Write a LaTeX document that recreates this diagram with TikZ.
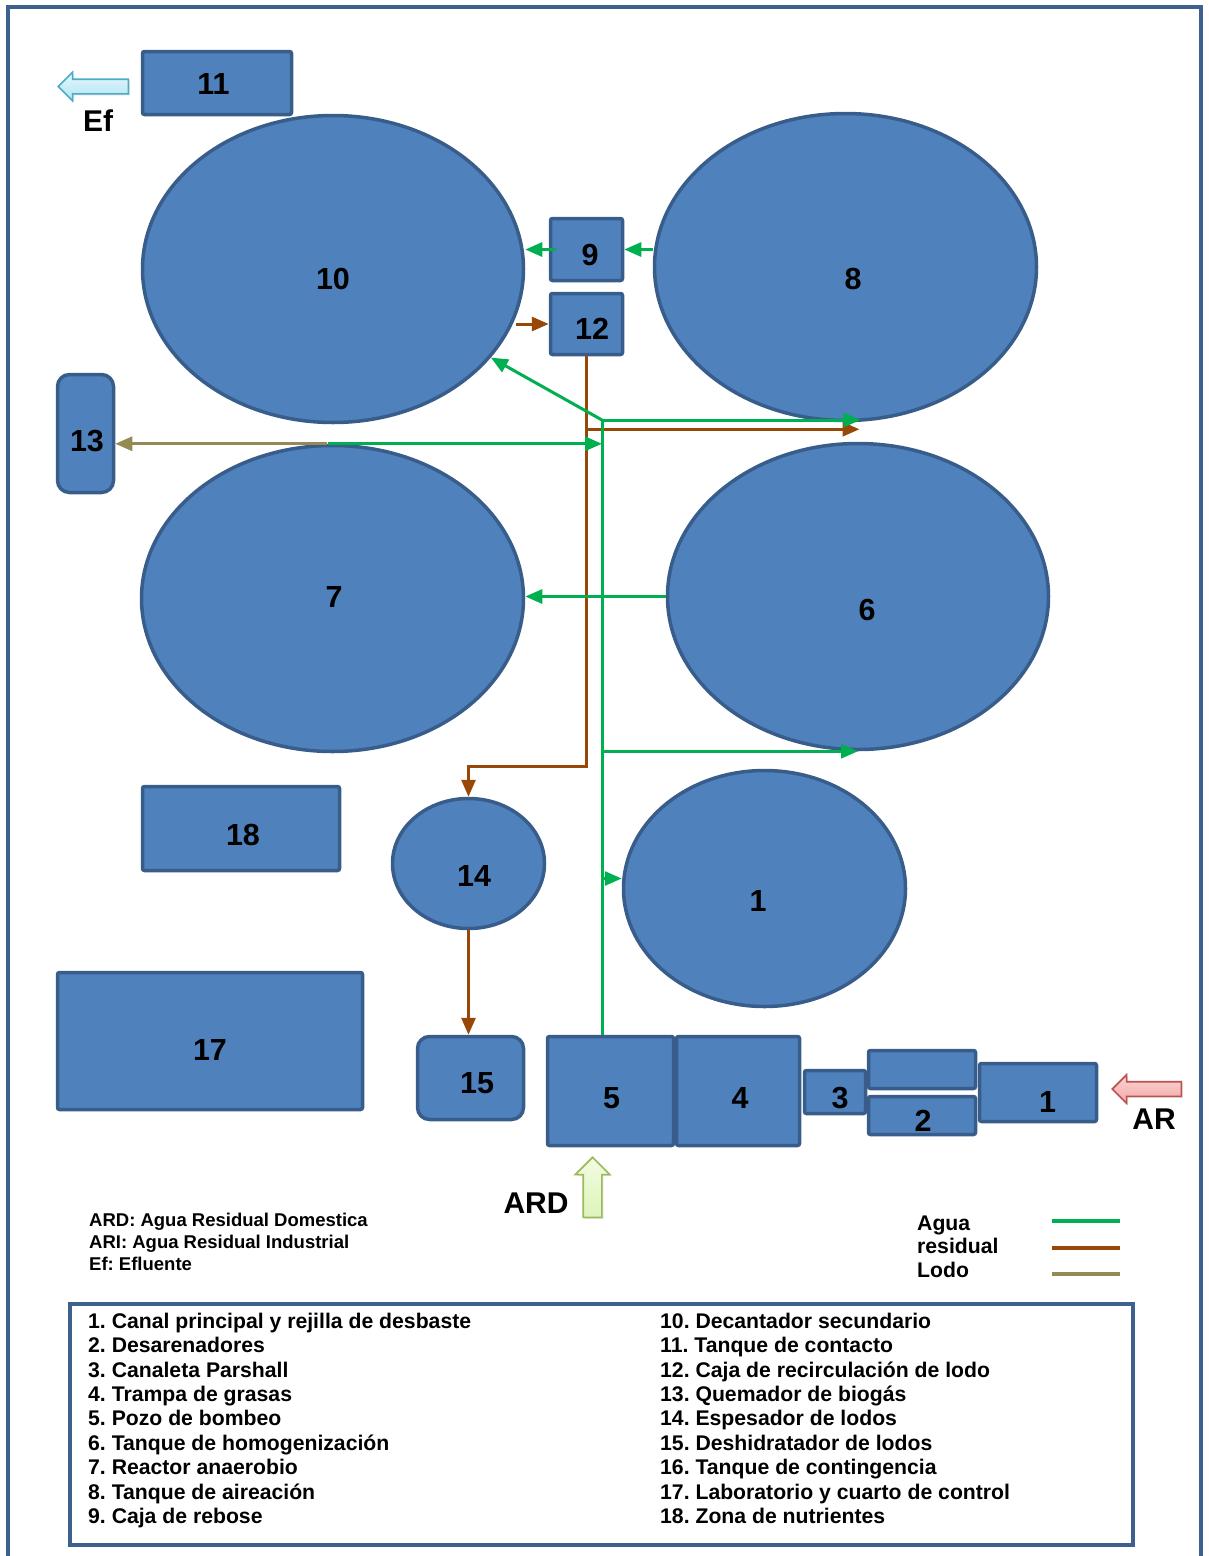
\documentclass[tikz,border=0pt]{standalone}
\usepackage{fontspec}
\setmainfont{Liberation Sans}
\usetikzlibrary{arrows.meta, shapes.geometric, shapes.arrows, shadows, calc}
\frenchspacing
\definecolor{tankFill}{RGB}{79,129,189}
\definecolor{tankLine}{RGB}{56,93,138}
\definecolor{frameLine}{RGB}{62,96,142}
\definecolor{waterLine}{RGB}{0,176,80}
\definecolor{sludgeLine}{RGB}{152,72,6}
\definecolor{gasLine}{RGB}{148,138,84}
\definecolor{efTop}{RGB}{228,248,253}
\definecolor{efFill}{RGB}{178,228,244}
\definecolor{efLine}{RGB}{75,172,198}
\definecolor{arTop}{RGB}{252,214,214}
\definecolor{arFill}{RGB}{242,166,166}
\definecolor{arLine}{RGB}{192,80,77}
\definecolor{ardTop}{RGB}{242,252,226}
\definecolor{ardFill}{RGB}{222,244,186}
\definecolor{ardLine}{RGB}{155,187,89}
\tikzset{
  num/.style={font=\bfseries\fontsize{30.5}{34}\selectfont, inner sep=0pt},
  unit/.style={draw=tankLine, fill=tankFill, line width=3.5pt, inner sep=0pt},
  tankbox/.style={unit, rectangle, rounded corners=2pt},
  softbox/.style={unit, rectangle, rounded corners=12pt},
  tank/.style={unit, ellipse},
  water/.style={-{Triangle[length=17pt,width=14pt]}, line width=3pt, draw=waterLine},
  sludge/.style={-{Triangle[length=17pt,width=14pt]}, line width=3pt, draw=sludgeLine},
  biogas/.style={-{Triangle[length=17pt,width=14pt]}, line width=3pt, draw=gasLine},
  flowin/.style={
    single arrow,
    single arrow head extend=7pt,
    inner sep=6.5pt,
    line width=1.6pt,
    drop shadow={shadow xshift=1.5pt, shadow yshift=-1.5pt, opacity=.25}
  },
  flowlabel/.style={font=\bfseries\fontsize{30}{34}\selectfont, inner sep=0pt, anchor=base},
  keyFrame/.style={draw=frameLine, line width=4pt, inner sep=0pt},
  keytext/.style={font=\bfseries\fontsize{21.2}{24}\selectfont, inner sep=0pt, anchor=base west},
  notetext/.style={font=\bfseries\fontsize{18.5}{22}\selectfont, inner sep=0pt, anchor=base west}
}

\begin{document}
\begin{tikzpicture}[x=1pt, y=-1pt]
  \useasboundingbox (0,0) rectangle (1208,1556);
  \draw[frameLine, line width=4pt] (8,7) rectangle (1201,1600);

  \node[tankbox, minimum width=149pt, minimum height=63pt, label={[num, shift={(-3.5,1)}]center:11}] (contact) at (217,83) {};
  \node[tank, minimum width=381pt, minimum height=307pt, label={[num, shift={(0,10)}]center:10}] (settler) at (333,269) {};
  \node[tank, minimum width=382pt, minimum height=307pt, label={[num, shift={(7.5,12)}]center:8}] (aeration) at (845.5,267) {};
  \node[tankbox, minimum width=72pt, minimum height=62pt, label={[num, shift={(3.5,5.5)}]center:9}] (overflow) at (586.5,249.5) {};
  \node[tankbox, minimum width=72pt, minimum height=61pt, label={[num, shift={(5.5,4.5)}]center:12}] (recirc) at (586.5,324) {};
  \node[softbox, minimum width=56pt, minimum height=118pt, label={[num, shift={(1.5,7.5)}]center:13}] (flare) at (85.5,433.5) {};
  \node[tank, minimum width=382pt, minimum height=306pt, label={[num, shift={(1.5,-1.5)}]center:7}] (anaerobic) at (332.5,598.5) {};
  \node[tank, minimum width=381pt, minimum height=306pt, label={[num, shift={(9,13.5)}]center:6}] (homog) at (858,596.5) {};
  \node[tankbox, minimum width=197pt, minimum height=84pt, label={[num, shift={(2,6.5)}]center:18}] (nutrients) at (241,828.5) {};
  \node[tank, minimum width=152pt, minimum height=130pt, label={[num, shift={(5.5,12.5)}]center:14}] (thickener) at (468.5,863.5) {};
  \node[tank, minimum width=282pt, minimum height=236pt, label={[num, shift={(-6.5,12.5)}]center:1}] (canal) at (764.5,888.5) {};
  \node[tankbox, minimum width=305pt, minimum height=137pt, label={[num, shift={(0,9)}]center:17}] (lab) at (210,1041) {};
  \node[softbox, minimum width=106pt, minimum height=83pt, label={[num, shift={(6.5,5.5)}]center:15}] (dewater) at (470.5,1078) {};
  \node[tankbox, minimum width=126pt, minimum height=109pt, label={[num, shift={(1,7.5)}]center:5}] (pumpWell) at (610.5,1091) {};
  \node[tankbox, minimum width=123pt, minimum height=109pt, label={[num, shift={(2,7)}]center:4}] (grease) at (738,1091) {};
  \node[tankbox, minimum width=61pt, minimum height=43pt, label={[num, shift={(5,6)}]center:3}] (parshall) at (835,1092) {};
  \node[tankbox, minimum width=107pt, minimum height=38pt] (sandTop) at (922,1069.5) {};
  \node[tankbox, minimum width=107pt, minimum height=38pt, label={[num, shift={(1,5)}]center:2}] (sandBottom) at (922,1115.5) {};
  \node[tankbox, minimum width=117pt, minimum height=58pt, label={[num, shift={(9.5,9)}]center:1}] (screen) at (1038,1092.5) {};

  \node[flowin, draw=efLine, top color=efTop, bottom color=efFill, shape border rotate=180, minimum height=70pt] (efOut) at (97,86.5) {};
  \node[flowlabel] (efText) at (98,131) {Ef};
  \node[flowin, draw=arLine, top color=arTop, bottom color=arFill, shape border rotate=180, minimum height=69pt] (arIn) at (1150.5,1089) {};
  \node[flowlabel] (arText) at (1154,1129.5) {AR};
  \node[flowin, draw=ardLine, top color=ardTop, bottom color=ardFill, shape border rotate=90, inner sep=8.5pt, single arrow head extend=8pt, minimum height=60pt] (ardIn) at (592.5,1192) {};
  \node[flowlabel] (ardText) at (536,1213) {ARD};

  \coordinate (riser) at (602,420);
  \coordinate (canalIn) at ([yshift=10pt]canal.west);
  \draw[water] (aeration.west |- overflow.east) -- (overflow.east);
  \draw[water] ([xshift=7pt]overflow.west) -- (settler.east |- overflow.west);
  \draw[sludge] ([xshift=-9pt]recirc.west -| settler.east) -- (recirc.west);
  \draw[sludge] (recirc.south) -- ++(0,410) -| (thickener.north);
  \draw[sludge] ($(recirc.south)+(0,73)$) -- ++(273,0);
  \draw[water, -] (riser |- pumpWell.north) -- (riser);
  \draw[water] (riser) -- (settler);
  \draw[water] (riser) -- ([xshift=15pt]aeration.south |- riser);
  \draw[water] ([xshift=-5pt]anaerobic.north) -- (anaerobic.north -| riser);
  \draw[biogas] ([xshift=-6pt]anaerobic.north) -- (anaerobic.north -| flare.east);
  \draw[water] (homog.west) -- (anaerobic.east |- homog.west);
  \draw[water] (riser |- homog.south) -- (homog.south);
  \draw[water] (riser |- canalIn) -- (canalIn);
  \draw[sludge] (thickener.south) -- (thickener.south |- dewater.north);

  \foreach \note [count=\i] in {ARD: Agua Residual Domestica, ARI: Agua Residual Industrial, Ef: Efluente}
    \node[notetext] (note\i) at (89,{1204+22*\i}) {\note};
  \foreach \kind/\shade [count=\i] in {Agua/waterLine, residual/sludgeLine, Lodo/gasLine} {
    \node[keytext] (kind\i) at (917,{1206.5+23.6*\i}) {\kind};
    \coordinate (swatch\i) at (1052,{1194+26.8*\i});
    \draw[draw=\shade, line width=4pt] (swatch\i) -- ++(68,0);
  }

  \node[keyFrame, minimum width=1063pt, minimum height=241pt] (keyBox) at (601.5,1424) {};
  \foreach \entry [count=\i] in {1. Canal principal y rejilla de desbaste, 2. Desarenadores, 3. Canaleta Parshall, 4. Trampa de grasas, 5. Pozo de bombeo, 6. Tanque de homogenización, 7. Reactor anaerobio, 8. Tanque de aireación, 9. Caja de rebose}
    \node[keytext] (keyA\i) at (88,{1304+24.375*\i}) {\entry};
  \foreach \entry [count=\i] in {10. Decantador secundario, 11. Tanque de contacto, 12. Caja de recirculación de lodo, 13. Quemador de biogás, 14. Espesador de lodos, 15. Deshidratador de lodos, 16. Tanque de contingencia, 17. Laboratorio y cuarto de control, 18. Zona de nutrientes}
    \node[keytext] (keyB\i) at (660,{1304+24.375*\i}) {\entry};
\end{tikzpicture}
\end{document}
